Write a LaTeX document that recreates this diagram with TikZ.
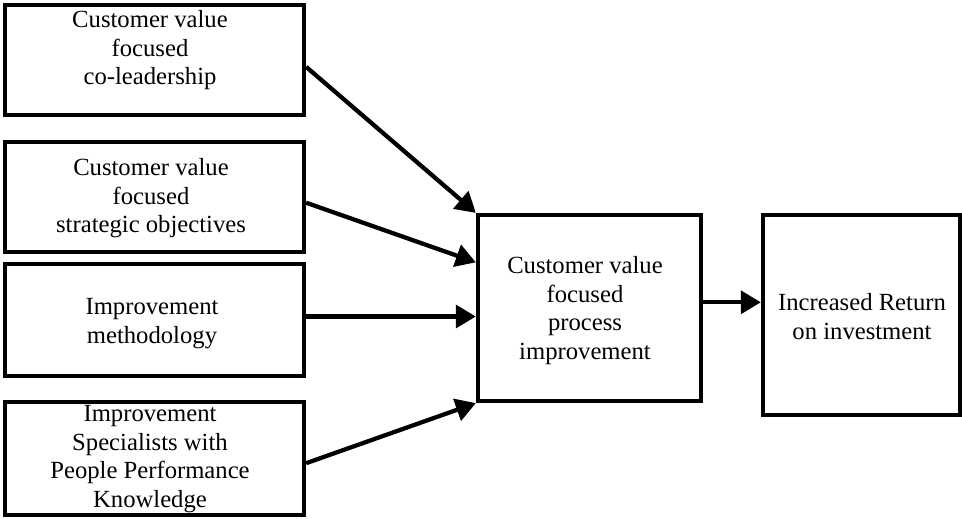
\documentclass[tikz,border=0pt]{standalone}
\usepackage{fontspec}
\setmainfont{Liberation Serif}
\usetikzlibrary{arrows.meta,fit,calc}

\tikzset{
  box/.style={draw=black, line width=3.2pt, inner sep=0pt, fill=white},
  txt/.style={align=center, inner sep=0pt, anchor=north,
    font=\fontsize{18.5pt}{21.5pt}\selectfont},
  arr/.style={line width=3.2pt, -{Triangle[length=15pt,width=17pt]}}
}

\begin{document}
\begin{tikzpicture}[x=0.75pt,y=-0.75pt]
  \useasboundingbox (0,0) rectangle (962,518);

  % input factors
  \node[box, fit={(5,5) (304,115)}]   (b1) {};
  \node[box, fit={(5,142) (304,252)}] (b2) {};
  \node[box, fit={(5,264) (304,376)}] (b3) {};
  \node[box, fit={(5,402) (304,515)}] (b4) {};

  % central process and outcome
  \node[box, fit={(478,215) (701,401)}] (c) {};
  \node[box, fit={(763,215) (960,415)}] (r) {};

  % labels
  \node[txt] (t1) at (150,10)  {Customer value\\focused\\co-leadership};
  \node[txt] (t2) at (151,158) {Customer value\\focused\\strategic objectives};
  \node[txt] (t3) at (152,298) {Improvement\\methodology};
  \node[txt] (t4) at (150,405) {Improvement\\Specialists with\\People Performance\\Knowledge};
  \node[txt] (t5) at (585,256) {Customer value\\focused\\process\\improvement};
  \node[txt] (t6) at (862,293) {Increased Return\\on investment};

  % connector end points on the box borders
  \coordinate (s1) at ($(b1.north east)!0.56!(b1.south east)$);
  \coordinate (s2) at ($(b2.north east)!0.55!(b2.south east)$);
  \coordinate (s3) at ($(b3.north east)!0.47!(b3.south east)$);
  \coordinate (s4) at ($(b4.north east)!0.54!(b4.south east)$);
  \coordinate (e2) at ($(c.north west)!0.26!(c.south west)$);
  \coordinate (co) at ($(c.north east)!0.47!(c.south east)$);

  \draw[arr] (s1) -- (c.north west);
  \draw[arr] (s2) -- (e2);
  \draw[arr] (s3) -- (s3 -| c.west);
  \draw[arr] (s4) -- (c.south west);
  \draw[arr] (co) -- (co -| r.west);
\end{tikzpicture}
\end{document}
